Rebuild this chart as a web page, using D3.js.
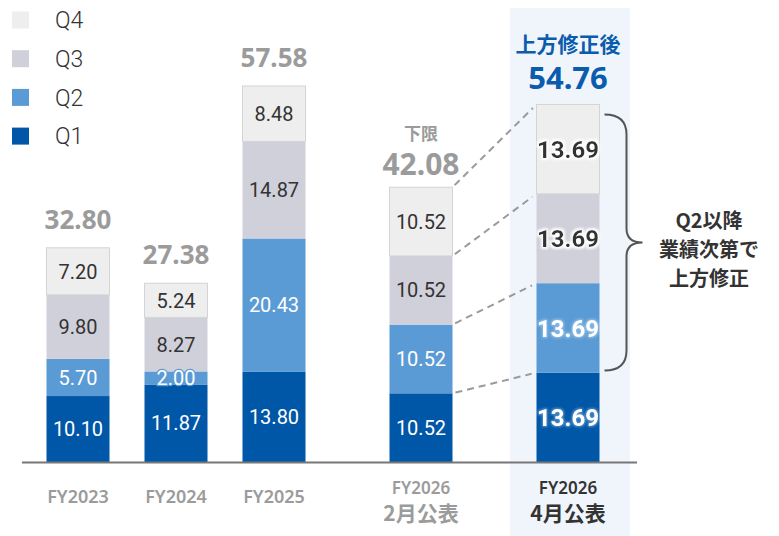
<!DOCTYPE html>
<html>
<head>
<meta charset="utf-8">
<script src="https://cdn.jsdelivr.net/npm/d3@7"></script>
<style>
  body { margin: 0; background: #fff; }
  svg { display: block; font-family: "Noto Sans", "Noto Sans CJK JP", sans-serif; }
</style>
</head>
<body>
<div id="chart"></div>
<script>
// 데이터
const labelTop = ["FY2023", "FY2024", "FY2025", "FY2026", "FY2026"];
const labelSub = ["", "", "", "2月公表", "4月公表"];
const slots = [0, 1, 2, 3.5, 5];
const q1 = [10.10, 11.87, 13.80, 10.52, 13.69];
const q2 = [5.70, 2.00, 20.43, 10.52, 13.69];
const q3 = [9.80, 8.27, 14.87, 10.52, 13.69];
const q4 = [7.20, 5.24, 8.48, 10.52, 13.69];
const totals = [32.80, 27.38, 57.58, 42.08, 54.76];
const seriesNames = ["Q1", "Q2", "Q3", "Q4"];
const braceText = ["Q2以降", "業績次第で", "上方修正"];

const colors = { Q1: "#0057a8", Q2: "#5b9bd5", Q3: "#cfd0d9", Q4: "#eeeeee" };
const textColors = { Q1: "#fff", Q2: "#fff", Q3: "#333", Q4: "#333" };

const width = 779, height = 536;
const barW = 63;

const svg = d3.select("#chart").append("svg")
  .attr("width", width)
  .attr("height", height);

// 글로우 필터
const defs = svg.append("defs");
function glow(id, color, op, r) {
  const f = defs.append("filter").attr("id", id)
    .attr("x", "-20%").attr("y", "-30%").attr("width", "140%").attr("height", "160%");
  f.append("feMorphology").attr("in", "SourceAlpha").attr("operator", "dilate").attr("radius", r).attr("result", "d");
  f.append("feGaussianBlur").attr("in", "d").attr("stdDeviation", 1).attr("result", "b");
  f.append("feFlood").attr("flood-color", color).attr("flood-opacity", op);
  f.append("feComposite").attr("in2", "b").attr("operator", "in").attr("result", "g");
  const m = f.append("feMerge");
  m.append("feMergeNode").attr("in", "g");
  m.append("feMergeNode").attr("in", "SourceGraphic");
}
glow("glowLight", "#ffffff", 0.95, 1.5);
glow("glowSoft", "#ffffff", 0.35, 1);

const x = d3.scaleLinear().domain([0, 5]).range([78, 568]);
const y = d3.scaleLinear().domain([0, 60]).range([462, 70.2]);

const rows = labelTop.map((d, i) => ({
  i: i, slot: slots[i], Q1: q1[i], Q2: q2[i], Q3: q3[i], Q4: q4[i], total: totals[i]
}));
const stacked = d3.stack().keys(seriesNames)(rows);
const last = rows.length - 1, feb = rows.length - 2;

// 강조 배경
svg.append("rect")
  .attr("x", x(slots[last]) - 58).attr("y", 8)
  .attr("width", 120).attr("height", height - 8)
  .attr("fill", "#f0f5fc");

// 점선 연결 (2월 -> 4월)
const febX = x(slots[feb]) + barW / 2, aprX = x(slots[last]) - barW / 2;
stacked.forEach(layer => {
  const y0 = y(layer[feb][1]), y1 = y(layer[last][1]);
  const dx = aprX - febX, dy = y1 - y0, len = Math.hypot(dx, dy);
  const s = 3 / len, e = 5 / len;
  svg.append("line")
    .attr("x1", febX + dx * s).attr("y1", y0 + dy * s)
    .attr("x2", aprX - dx * e).attr("y2", y1 - dy * e)
    .attr("stroke", "#9a9a9a").attr("stroke-width", 2)
    .attr("stroke-dasharray", "7,5");
});

// 막대
stacked.forEach(layer => {
  const key = layer.key;
  svg.append("g").selectAll("rect")
    .data(layer)
    .join("rect")
    .attr("x", d => x(d.data.slot) - barW / 2)
    .attr("y", d => y(d[1]))
    .attr("width", barW)
    .attr("height", d => y(d[0]) - y(d[1]))
    .attr("fill", colors[key])
    .attr("stroke", key === "Q4" ? "#d4d4d4" : "none")
    .attr("stroke-width", 1);
});

// 세그먼트 라벨
stacked.forEach(layer => {
  const key = layer.key;
  layer.forEach((d, i) => {
    const big = i === last;
    const t = svg.append("text")
      .attr("x", x(d.data.slot))
      .attr("y", (y(d[0]) + y(d[1])) / 2)
      .attr("dy", "0.36em")
      .attr("text-anchor", "middle")
      .attr("font-family", "Roboto, 'Noto Sans', sans-serif")
      .attr("font-size", big ? 24 : 20)
      .attr("font-weight", big ? 700 : 400)
      .attr("fill", textColors[key])
      .text(d.data[key].toFixed(2));
    if (big) {
      t.attr("filter", key === "Q1" || key === "Q2" ? "url(#glowSoft)" : "url(#glowLight)");
    } else if (key === "Q2" && d.data.Q2 < 3) {
      t.attr("stroke", colors.Q2).attr("stroke-width", 2.5).attr("paint-order", "stroke");
    }
  });
});

// 합계 라벨
rows.forEach((d, i) => {
  const cx = x(d.slot), top = y(d.total);
  if (i < feb) {
    svg.append("text")
      .attr("x", cx).attr("y", top - 19)
      .attr("text-anchor", "middle")
      .attr("font-size", 26).attr("font-weight", 700)
      .attr("fill", "#9b9b9b")
      .text(d.total.toFixed(2));
  } else if (i === feb) {
    svg.append("text")
      .attr("x", cx).attr("y", top - 47)
      .attr("text-anchor", "middle")
      .attr("font-family", "'Noto Sans CJK JP', sans-serif")
      .attr("font-size", 17).attr("font-weight", 700)
      .attr("fill", "#9b9b9b")
      .text("下限");
    svg.append("text")
      .attr("x", cx).attr("y", top - 12)
      .attr("text-anchor", "middle")
      .attr("font-size", 30).attr("font-weight", 700)
      .attr("fill", "#9b9b9b")
      .text(d.total.toFixed(2));
  } else {
    svg.append("text")
      .attr("x", cx).attr("y", top - 52)
      .attr("text-anchor", "middle")
      .attr("font-family", "'Noto Sans CJK JP', sans-serif")
      .attr("font-size", 21).attr("font-weight", 700)
      .attr("fill", "#0b5cad")
      .text("上方修正後");
    svg.append("text")
      .attr("x", cx).attr("y", top - 15)
      .attr("text-anchor", "middle")
      .attr("font-size", 31).attr("font-weight", 700)
      .attr("fill", "#0b5cad")
      .text(d.total.toFixed(2));
  }
});

// x축 선
svg.append("line")
  .attr("x1", 22).attr("x2", 637)
  .attr("y1", y(0) + 0.5).attr("y2", y(0) + 0.5)
  .attr("stroke", "#777").attr("stroke-width", 2);

// x축 라벨
rows.forEach((d, i) => {
  const cx = x(d.slot);
  const col = i === last ? "#333" : "#9b9b9b";
  if (labelSub[i]) {
    svg.append("text")
      .attr("x", cx).attr("y", 494)
      .attr("text-anchor", "middle")
      .attr("font-size", 17).attr("font-weight", 600)
      .attr("fill", col).text(labelTop[i]);
    svg.append("text")
      .attr("x", cx).attr("y", 521)
      .attr("text-anchor", "middle")
      .attr("font-family", "'Noto Sans CJK JP', sans-serif")
      .attr("font-size", 21).attr("font-weight", 700)
      .attr("fill", col).text(labelSub[i]);
  } else {
    svg.append("text")
      .attr("x", cx).attr("y", 503)
      .attr("text-anchor", "middle")
      .attr("font-size", 18).attr("font-weight", 600)
      .attr("fill", col).text(labelTop[i]);
  }
});

// 범례
seriesNames.slice().reverse().forEach((k, i) => {
  const cy = 20 + i * 38.7;
  svg.append("rect")
    .attr("x", 12).attr("y", cy - 8.5)
    .attr("width", 17).attr("height", 17)
    .attr("fill", colors[k]);
  svg.append("text")
    .attr("x", 55).attr("y", cy).attr("dy", "0.36em")
    .attr("font-family", "Roboto, 'Noto Sans', sans-serif")
    .attr("font-size", 23).attr("font-weight", 300)
    .attr("fill", "#333")
    .text(k);
});

// 중괄호
const bTop = y(totals[last]) + 10, bBot = y(q1[last]) - 2;
const bMid = (bTop + bBot) / 2;
const bx0 = x(slots[last]) + barW / 2 + 5, bx1 = bx0 + 22, tip = bx1 + 16;
const bracePath = d3.path();
bracePath.moveTo(bx0, bTop);
bracePath.quadraticCurveTo(bx1, bTop, bx1, bTop + 20);
bracePath.lineTo(bx1, bMid - 14);
bracePath.quadraticCurveTo(bx1, bMid, tip, bMid);
bracePath.quadraticCurveTo(bx1, bMid, bx1, bMid + 14);
bracePath.lineTo(bx1, bBot - 20);
bracePath.quadraticCurveTo(bx1, bBot, bx0, bBot);
svg.append("path")
  .attr("d", bracePath.toString())
  .attr("fill", "none")
  .attr("stroke", "#555").attr("stroke-width", 2);

braceText.forEach((t, i) => {
  svg.append("text")
    .attr("x", 709).attr("y", 228 + i * 29)
    .attr("text-anchor", "middle")
    .attr("font-family", "'Noto Sans CJK JP', sans-serif")
    .attr("font-size", 20).attr("font-weight", 700)
    .attr("fill", "#333")
    .text(t);
});
</script>
</body>
</html>
